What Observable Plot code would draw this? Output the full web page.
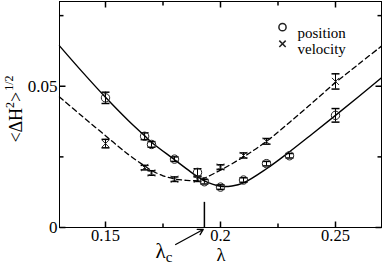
<!DOCTYPE html>
<html><head><meta charset="utf-8">
<script src="https://cdn.jsdelivr.net/npm/d3@7"></script>
<script src="https://cdn.jsdelivr.net/npm/@observablehq/plot@0.6"></script>
<style>html,body{margin:0;padding:0;background:#fff} svg{display:block} svg text{font-family:'Liberation Serif','Times New Roman','DejaVu Serif',serif !important}</style>
</head><body><div id="chart"></div>
<script>
// position data (circles)
const posLambda = [0.15, 0.167, 0.17, 0.18, 0.19, 0.193, 0.2, 0.21, 0.22, 0.23, 0.25];
const posValue  = [0.0459, 0.0323, 0.0294, 0.0242, 0.0195, 0.0162, 0.0143, 0.0168, 0.0226, 0.0254, 0.0397];
const posError  = [0.0020, 0.0012, 0.0010, 0.0008, 0.0013, 0.0008, 0.0008, 0.0008, 0.0008, 0.0008, 0.0024];
// velocity data (crosses)
const velLambda = [0.15, 0.167, 0.17, 0.18, 0.19, 0.2, 0.21, 0.22, 0.25];
const velValue  = [0.0297, 0.0212, 0.0193, 0.0171, 0.0171, 0.0214, 0.0255, 0.0305, 0.0517];
const velError  = [0.0015, 0.0008, 0.0008, 0.0008, 0.0008, 0.0008, 0.0009, 0.0010, 0.0027];
// fitted curves
const fitPosLambda = [0.13, 0.14, 0.15, 0.16, 0.167, 0.17, 0.18, 0.187, 0.19, 0.193, 0.2, 0.205, 0.21, 0.22, 0.23, 0.24, 0.25, 0.26, 0.27];
const fitPosValue  = [0.0643, 0.0550, 0.0461, 0.0378, 0.0325, 0.0302, 0.0240, 0.0197, 0.0180, 0.0165, 0.0146, 0.0147, 0.0158, 0.0208, 0.0268, 0.0332, 0.0397, 0.0463, 0.0530];
const fitVelLambda = [0.13, 0.14, 0.15, 0.16, 0.167, 0.17, 0.175, 0.18, 0.185, 0.19, 0.193, 0.2, 0.21, 0.22, 0.23, 0.24, 0.25, 0.26, 0.27];
const fitVelValue  = [0.0462, 0.0393, 0.0325, 0.0258, 0.0218, 0.0202, 0.0183, 0.0172, 0.0167, 0.0167, 0.0175, 0.0203, 0.0250, 0.0305, 0.0372, 0.0442, 0.0513, 0.0578, 0.0642];
// axes
const xTicksMajor = [0.15, 0.2, 0.25];
const xTicksMinor = [0.175, 0.225];
const yTicksMajor = [0, 0.05];
const yTicksMinor = [0.025, 0.075];
// annotation
const lambdaC = 0.193;
const lambdaCMarkTop = 0.0089;
const arrowAnno = [{x1: 0.1805, y1: -0.006, x2: 0.1925, y2: -0.0007}];
const legendLabels = ["position", "velocity"];

const pos = posLambda.map((x, i) => ({x, y: posValue[i], e: posError[i]}));
const vel = velLambda.map((x, i) => ({x, y: velValue[i], e: velError[i]}));
const fitPos = fitPosLambda.map((x, i) => ({x, y: fitPosValue[i]}));
const fitVel = fitVelLambda.map((x, i) => ({x, y: fitVelValue[i]}));

const seg = (dx, dy) => ({draw(ctx) { ctx.moveTo(0, 0); ctx.lineTo(dx, dy); }});
const cap = {draw(ctx) { ctx.moveTo(-4, 0); ctx.lineTo(4, 0); }};
const FONT = "'Liberation Serif', 'Times New Roman', 'DejaVu Serif', serif";

const chart = Plot.plot({
  width: 382, height: 265,
  marginLeft: 59, marginRight: 1, marginTop: 1, marginBottom: 38,
  style: {fontFamily: FONT, background: "#fff"},
  x: {domain: [0.13, 0.27]},
  y: {domain: [0, 0.08]},
  marks: [
    Plot.axisX(xTicksMajor, {tickSize: 0, tickPadding: 2, tickFormat: d => String(d), fontSize: 16.5}),
    Plot.axisY(yTicksMajor, {tickSize: 0, tickPadding: 2, tickFormat: d => String(d), fontSize: 17}),
    Plot.frame({stroke: "black"}),
    Plot.dot(xTicksMajor, {x: d => d, frameAnchor: "bottom", symbol: seg(0, -6), stroke: "black", fill: "none"}),
    Plot.dot(xTicksMinor, {x: d => d, frameAnchor: "bottom", symbol: seg(0, -4), stroke: "black", fill: "none"}),
    Plot.dot(xTicksMajor, {x: d => d, frameAnchor: "top", symbol: seg(0, 6), stroke: "black", fill: "none"}),
    Plot.dot(xTicksMinor, {x: d => d, frameAnchor: "top", symbol: seg(0, 4), stroke: "black", fill: "none"}),
    Plot.dot(yTicksMajor, {y: d => d, frameAnchor: "left", symbol: seg(6, 0), stroke: "black", fill: "none"}),
    Plot.dot(yTicksMinor, {y: d => d, frameAnchor: "left", symbol: seg(4, 0), stroke: "black", fill: "none"}),
    Plot.dot(yTicksMajor, {y: d => d, frameAnchor: "right", symbol: seg(-6, 0), stroke: "black", fill: "none"}),
    Plot.dot(yTicksMinor, {y: d => d, frameAnchor: "right", symbol: seg(-4, 0), stroke: "black", fill: "none"}),
    Plot.line(fitPos, {x: "x", y: "y", curve: "catmull-rom", stroke: "black", strokeWidth: 1.4}),
    Plot.line(fitVel, {x: "x", y: "y", curve: "catmull-rom", stroke: "black", strokeWidth: 1.3, strokeDasharray: "5,3.5"}),
    Plot.ruleX(pos, {x: "x", y1: d => d.y - d.e, y2: d => d.y + d.e, stroke: "black", strokeWidth: 1}),
    Plot.dot(pos, {x: "x", y: d => d.y - d.e, symbol: cap, stroke: "black", fill: "none"}),
    Plot.dot(pos, {x: "x", y: d => d.y + d.e, symbol: cap, stroke: "black", fill: "none"}),
    Plot.ruleX(vel, {x: "x", y1: d => d.y - d.e, y2: d => d.y + d.e, stroke: "black", strokeWidth: 1}),
    Plot.dot(vel, {x: "x", y: d => d.y - d.e, symbol: cap, stroke: "black", fill: "none"}),
    Plot.dot(vel, {x: "x", y: d => d.y + d.e, symbol: cap, stroke: "black", fill: "none"}),
    Plot.dot(pos, {x: "x", y: "y", r: 4.2, stroke: "#222", fill: "none", strokeWidth: 1}),
    Plot.dot(vel, {x: "x", y: "y", symbol: "times", r: 3.3, stroke: "#222", strokeWidth: 1}),
    Plot.ruleX([lambdaC], {x: d => d, y1: 0, y2: lambdaCMarkTop, stroke: "black", strokeWidth: 1.5}),
    Plot.arrow(arrowAnno, {x1: "x1", y1: "y1", x2: "x2", y2: "y2", headLength: 7, stroke: "black", strokeWidth: 1.3}),
    Plot.dot([legendLabels[0]], {frameAnchor: "top-right", dx: -99, dy: 25.7, r: 3.6, stroke: "#222", fill: "none"}),
    Plot.dot([legendLabels[1]], {frameAnchor: "top-right", dx: -99, dy: 42.3, r: 3, symbol: "times", stroke: "#222"}),
    Plot.text([legendLabels[0]], {text: d => d, frameAnchor: "top-right", dx: -84, dy: 25.7, textAnchor: "start", fontSize: 15, fill: "black"}),
    Plot.text([legendLabels[1]], {text: d => d, frameAnchor: "top-right", dx: -84, dy: 42.3, textAnchor: "start", fontSize: 15, fill: "black"})
  ]
});
document.getElementById("chart").append(chart);

const svg = d3.select(chart);
const xs = chart.scale("x");
// y axis label <ΔH^2>^{1/2}
const yl = svg.append("text")
  .attr("transform", "translate(22,109) rotate(-90)")
  .attr("text-anchor", "middle")
  .attr("font-size", 18).attr("fill", "black");
yl.append("tspan").text("<ΔH");
yl.append("tspan").attr("dy", -8).attr("font-size", 12).text("2");
yl.append("tspan").attr("dy", 8).text(">");
yl.append("tspan").attr("dy", -9).attr("dx", 1).attr("font-size", 12).text("1/2");
// x label λ
svg.append("text").attr("x", 221).attr("y", 261).attr("text-anchor", "middle")
  .attr("font-size", 18.5).attr("fill", "black").text("λ");
// λc label
const lc = svg.append("text").attr("x", xs.apply(lambdaC) - 40).attr("y", 258)
  .attr("font-size", 21).attr("fill", "black");
lc.append("tspan").text("λ");
lc.append("tspan").attr("dy", 4).attr("font-size", 15).text("c");
</script>
</body></html>
